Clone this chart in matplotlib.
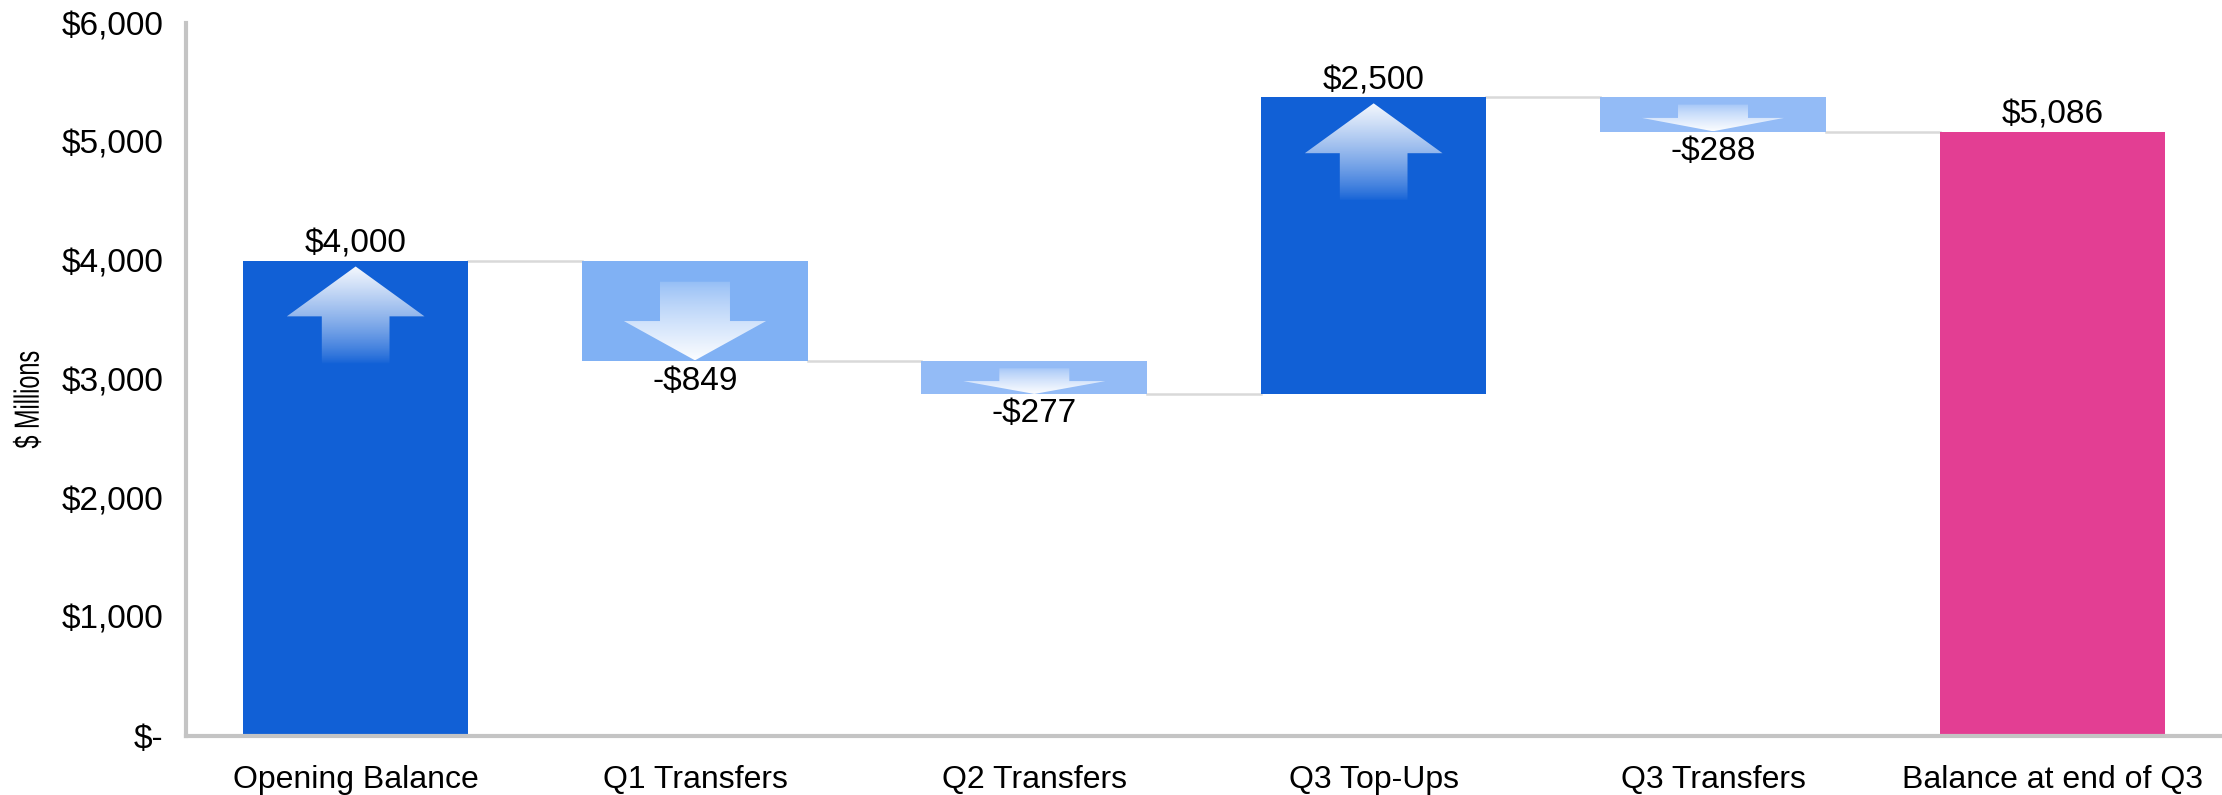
import numpy as np
import matplotlib.pyplot as plt
from matplotlib.patches import Polygon, PathPatch
from matplotlib.textpath import TextPath
from matplotlib.font_manager import FontProperties
from matplotlib.transforms import Affine2D

# data
categories = ['Opening Balance', 'Q1 Transfers', 'Q2 Transfers', 'Q3 Top-Ups',
              'Q3 Transfers', 'Balance at end of Q3']
changes = [4000, -849, -277, 2500, -288]
final_balance = 5086
value_labels = ['$4,000', '-$849', '-$277', '$2,500', '-$288', '$5,086']
bar_colors = ['#1160d6', '#80b1f4', '#93bbf6', '#1160d6', '#93bbf6', '#e33e93']
y_ticks = [0, 1000, 2000, 3000, 4000, 5000, 6000]
y_tick_labels = ['$-', '$1,000', '$2,000', '$3,000', '$4,000', '$5,000', '$6,000']

plt.rcParams['font.family'] = ['Liberation Sans', 'DejaVu Sans']

# waterfall bottoms/heights
bottoms, heights = [], []
running = 0
for c in changes:
    if c >= 0:
        bottoms.append(running)
        heights.append(c)
    else:
        bottoms.append(running + c)
        heights.append(-c)
    running += c
bottoms.append(0)
heights.append(final_balance)

x = np.arange(len(categories))
w = 0.665

fig = plt.figure(figsize=(22.22, 7.95), dpi=100)
ax = fig.add_axes([0.0837, 0.0748, 0.9163, 0.8962])

ax.bar(x, heights, bottom=bottoms, width=w, color=bar_colors, zorder=2)

# connector lines
levels = np.cumsum(changes)
for i, lv in enumerate(levels):
    ax.plot([x[i] + w / 2, x[i + 1] - w / 2], [lv, lv], color='#d9d9d9', lw=1.8, zorder=1)


def gradient_arrow(ax, xc, y_tail, y_head, y_tip, head_w, shaft_w, a0, a1):
    pts = [(xc - shaft_w / 2, y_tail), (xc - shaft_w / 2, y_head), (xc - head_w / 2, y_head),
           (xc, y_tip), (xc + head_w / 2, y_head), (xc + shaft_w / 2, y_head),
           (xc + shaft_w / 2, y_tail)]
    poly = Polygon(pts, closed=True, facecolor='none', edgecolor='none')
    ax.add_patch(poly)
    n = 256
    t = np.linspace(0, 1, n)
    alpha = a0 + (a1 - a0) * t ** 0.8
    if y_tip < y_tail:
        alpha = alpha[::-1]
    img = np.ones((n, 1, 4))
    img[:, 0, 3] = alpha
    im = ax.imshow(img, extent=[xc - head_w / 2, xc + head_w / 2, min(y_tail, y_tip), max(y_tail, y_tip)],
                   origin='lower', aspect='auto', zorder=3, interpolation='bilinear')
    im.set_clip_path(poly)


# arrows inside the change bars
for i, c in enumerate(changes):
    top = bottoms[i] + heights[i]
    if c >= 0:
        tip = top - 50
        head = tip - 420
        tail = head - 400
        gradient_arrow(ax, x[i], tail, head, tip, 0.61 * w, 0.30 * w, 0.0, 0.96)
    else:
        h = heights[i]
        tail = top - 0.21 * h
        head = top - 0.6 * h
        tip = bottoms[i] + 0.01 * h
        gradient_arrow(ax, x[i], tail, head, tip, 0.63 * w, 0.31 * w, 0.15, 0.97)

# value labels
for i in range(len(categories)):
    if i < len(changes) and changes[i] < 0:
        ax.annotate(value_labels[i], (x[i], bottoms[i]), xytext=(0, -3), textcoords='offset points',
                    ha='center', va='top', fontsize=24)
    else:
        ax.annotate(value_labels[i], (x[i], bottoms[i] + heights[i]), xytext=(0, 1),
                    textcoords='offset points', ha='center', va='bottom', fontsize=24)

ax.set_xlim(-0.5, len(categories) - 0.5)
ax.set_ylim(0, 6000)
ax.set_xticks(x)
ax.set_xticklabels(categories, fontsize=23)
ax.set_yticks(y_ticks)
ax.set_yticklabels(y_tick_labels, fontsize=24)
ax.tick_params(axis='both', length=0)
ax.tick_params(axis='y', pad=16)
ax.tick_params(axis='x', pad=21)

for s in ['top', 'right']:
    ax.spines[s].set_visible(False)
for s in ['left', 'bottom']:
    ax.spines[s].set_color('#c4c4c4')
    ax.spines[s].set_linewidth(3)

# y label drawn as a condensed text path (narrow font look)
tp = TextPath((0, 0), '$ Millions', size=35, prop=FontProperties(family='Liberation Sans'))
bb = tp.get_extents()
tr = (Affine2D().translate(-(bb.x0 + bb.x1) / 2, -(bb.y0 + bb.y1) / 2)
      .scale(0.67, 1.0).rotate_deg(90).translate(27, 795 - 400))
fig.patches.append(PathPatch(tp, transform=tr, facecolor='black', edgecolor='none', figure=fig))

plt.savefig('out.png', dpi=100)
